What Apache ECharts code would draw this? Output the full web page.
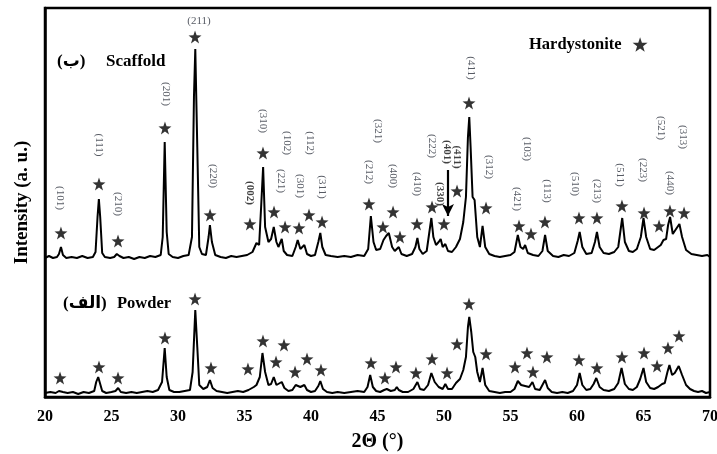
<!DOCTYPE html>
<html>
<head>
<meta charset="utf-8">
<script src="https://cdn.jsdelivr.net/npm/echarts@6/dist/echarts.min.js"></script>
<style>
html,body{margin:0;padding:0;background:#fff;}
#chart{width:717px;height:454px;}
</style>
</head>
<body>
<div id="chart"></div>
<script>
// ---- data (2θ in degrees, intensity in arbitrary units) ----
const xTickLabels = [20, 25, 30, 35, 40, 45, 50, 55, 60, 65, 70];

const scaffoldTrace = [
[20.0,139],[20.3,141],[20.6,139],[20.9,140],[21.05,143],[21.2,150],[21.35,142],[21.6,139],[22.0,140],[22.4,139],
[22.8,141],[23.2,139],[23.6,140],[23.8,145],[23.95,180],[24.05,198],[24.15,180],[24.3,144],[24.5,140],[24.9,139],
[25.2,140],[25.4,143],[25.5,145],[25.6,141],[25.9,139],[26.3,140],[26.7,138],[27.1,140],[27.5,139],[27.9,141],
[28.3,140],[28.7,142],[28.85,160],[29.0,255],[29.15,165],[29.3,143],[29.6,140],[30.0,139],[30.4,141],[30.8,142],
[31.05,160],[31.2,300],[31.3,348],[31.45,250],[31.6,150],[31.8,143],[32.1,142],[32.3,160],[32.4,172],[32.55,155],
[32.8,142],[33.2,140],[33.6,139],[34.0,141],[34.4,140],[34.8,141],[35.2,142],[35.6,145],[35.9,154],[36.1,152],
[36.25,190],[36.4,230],[36.55,170],[36.8,155],[37.0,158],[37.2,170],[37.4,155],[37.55,150],[37.8,158],[37.95,146],
[38.2,142],[38.6,141],[38.85,150],[39.0,157],[39.2,148],[39.35,150],[39.5,152],[39.7,143],[40.0,141],[40.3,142],
[40.55,155],[40.7,164],[40.85,150],[41.1,142],[41.5,141],[42.0,140],[42.5,141],[43.0,140],[43.5,142],[44.0,141],
[44.3,148],[44.5,181],[44.7,155],[44.9,147],[45.2,148],[45.45,157],[45.65,161],[45.85,164],[46.1,150],[46.3,146],
[46.6,150],[46.8,143],[47.2,141],[47.6,143],[47.85,150],[48.0,159],[48.15,148],[48.4,143],[48.7,146],[48.9,165],
[49.05,179],[49.2,160],[49.4,152],[49.6,155],[49.75,158],[49.9,150],[50.1,153],[50.3,146],[50.6,145],[50.9,150],
[51.2,158],[51.45,175],[51.65,200],[51.8,260],[51.9,280],[52.0,250],[52.15,200],[52.3,197],[52.5,160],[52.7,150],
[52.9,171],[53.1,150],[53.4,143],[53.8,141],[54.2,140],[54.6,141],[55.0,142],[55.3,145],[55.55,162],[55.75,150],
[55.95,148],[56.1,152],[56.3,144],[56.7,142],[57.1,141],[57.4,146],[57.6,162],[57.8,146],[58.2,141],[58.6,140],
[59.0,142],[59.4,141],[59.8,144],[60.05,156],[60.2,165],[60.4,150],[60.7,143],[61.1,144],[61.35,155],[61.5,165],
[61.7,150],[62.0,144],[62.4,143],[62.8,145],[63.1,150],[63.4,179],[63.6,155],[63.9,146],[64.2,145],[64.5,148],
[64.8,160],[65.0,179],[65.2,160],[65.5,148],[65.8,147],[66.1,150],[66.3,152],[66.5,157],[66.7,158],[66.85,172],
[67.0,180],[67.2,163],[67.35,165],[67.7,173],[67.9,160],[68.2,147],[68.6,143],[69.0,142],[69.4,141],[69.8,142],
[70.0,140]
];

const powderTrace = [
[20.0,4],[20.4,5],[20.8,4],[21.05,6],[21.2,8],[21.35,5],[21.7,4],[22.1,5],[22.5,3],[22.9,5],
[23.3,4],[23.7,6],[23.85,15],[24.0,20],[24.15,18],[24.3,6],[24.6,4],[25.0,5],[25.3,6],[25.5,9],
[25.7,5],[26.1,4],[26.5,5],[26.9,4],[27.3,5],[27.7,6],[28.1,5],[28.5,7],[28.8,15],[29.0,49],
[29.15,20],[29.35,7],[29.7,5],[30.1,5],[30.5,6],[30.9,7],[31.1,25],[31.3,87],[31.45,50],[31.6,12],
[31.9,8],[32.2,10],[32.4,17],[32.6,9],[32.9,6],[33.3,5],[33.7,4],[34.1,5],[34.5,6],[34.9,5],
[35.3,7],[35.7,10],[35.9,12],[36.15,20],[36.35,44],[36.55,25],[36.8,12],[37.0,13],[37.2,20],[37.4,12],
[37.55,10],[37.8,15],[38.0,9],[38.3,6],[38.6,7],[38.85,12],[39.0,14],[39.2,10],[39.35,10],[39.5,12],
[39.7,7],[40.0,5],[40.3,6],[40.55,11],[40.7,16],[40.9,8],[41.2,5],[41.6,4],[42.0,5],[42.5,4],
[43.0,5],[43.5,6],[44.0,5],[44.25,10],[44.45,22],[44.65,10],[44.9,6],[45.2,5],[45.5,7],[45.7,8],
[46.0,6],[46.3,7],[46.45,10],[46.6,7],[46.9,5],[47.3,5],[47.7,8],[48.0,15],[48.2,8],[48.5,7],
[48.8,12],[49.05,24],[49.3,15],[49.6,10],[49.9,8],[50.1,13],[50.3,8],[50.6,8],[50.9,14],[51.2,18],
[51.45,27],[51.65,40],[51.8,70],[51.9,80],[52.05,65],[52.2,45],[52.35,40],[52.5,25],[52.7,15],[52.9,29],
[53.1,12],[53.4,6],[53.8,5],[54.2,4],[54.6,5],[55.0,5],[55.3,8],[55.55,16],[55.8,12],[56.1,11],
[56.4,10],[56.65,15],[56.85,8],[57.2,7],[57.6,17],[57.8,9],[58.1,5],[58.5,4],[58.9,5],[59.3,4],
[59.7,6],[60.0,12],[60.2,24],[60.4,12],[60.7,7],[61.0,8],[61.25,13],[61.45,19],[61.7,10],[62.0,7],
[62.4,6],[62.8,8],[63.1,14],[63.35,29],[63.6,13],[63.9,8],[64.2,7],[64.5,10],[64.75,18],[65.0,29],
[65.2,15],[65.5,9],[65.8,8],[66.1,10],[66.4,13],[66.6,14],[66.8,25],[66.95,32],[67.15,22],[67.35,24],
[67.65,31],[67.9,22],[68.2,12],[68.5,8],[68.8,6],[69.1,5],[69.4,6],[69.7,4],[70.0,5]
];

const scaffoldStars = [
[21.2,164],[24.06,213],[25.49,156],[29.02,269],[31.28,360],[32.41,182],[35.41,173],[36.39,244],
[37.22,185],[38.05,170],[39.1,169],[39.85,182],[40.83,175],[44.36,193],[45.41,170],[46.17,185],
[46.69,160],[47.97,173],[49.1,190],[50.0,173],[50.98,206],[51.88,294],[53.16,189],[55.64,171],
[56.54,163],[57.59,175],[60.15,179],[61.5,179],[63.38,191],[65.04,184],[66.17,171],[66.99,186],[68.05,184]
];

const powderStars = [
[21.13,19],[24.06,30],[25.49,19],[29.02,59],[31.28,98],[32.48,29],[35.26,28],[36.39,56],
[37.37,35],[37.97,52],[38.8,25],[39.7,38],[40.75,27],[44.51,34],[45.56,19],[46.39,30],
[47.89,24],[49.1,38],[50.23,24],[50.98,53],[51.88,93],[53.16,43],[55.34,30],[56.24,44],
[56.69,25],[57.74,40],[60.15,37],[61.5,29],[63.38,40],[65.04,44],[66.02,31],[66.84,49],[67.67,61]
];

const millerLabels = [
[21.13,199,'(101)'],[24.06,252,'(111)'],[25.49,193,'(210)'],[29.1,303,'(201)'],[31.58,376,'(211)'],
[32.63,221,'(220)'],[35.41,204,'(002)'],[36.39,276,'(310)'],[37.74,216,'(221)'],[38.2,254,'(102)'],
[39.17,211,'(301)'],[39.92,254,'(112)'],[40.83,210,'(311)'],[44.36,225,'(212)'],[45.04,266,'(321)'],
[46.17,221,'(400)'],[47.97,213,'(410)'],[49.1,251,'(222)'],[49.7,203,'(330)'],[50.23,245,'(401)'],
[50.98,240,'(411)'],[52.03,329,'(411)'],[53.38,230,'(312)'],[55.49,198,'(421)'],[56.24,248,'(103)'],
[57.74,206,'(113)'],[59.85,213,'(510)'],[61.5,206,'(213)'],[63.23,222,'(511)'],[64.96,227,'(223)'],
[66.32,269,'(521)'],[66.99,214,'(440)'],[67.97,260,'(313)']
];
const boldLabelIdx = [6, 18, 19, 20];
const horizontalLabelIdx = [4];
const arrowLine = [[50.3,227],[50.3,181]];

// ---- chart ----
const starPath = 'path://M12,0 L14.9,8.4 L23.8,8.6 L16.7,14 L19.3,22.6 L12,17.5 L4.7,22.6 L7.3,14 L0.2,8.6 L9.1,8.4 Z';
const serif = '"Liberation Serif","DejaVu Serif",serif';

const labelData = millerLabels.map((d, i) => ({
  value: [d[0], d[1]],
  label: {
    formatter: d[2],
    rotate: horizontalLabelIdx.includes(i) ? 0 : -90,
    fontWeight: boldLabelIdx.includes(i) ? 'bold' : 'normal',
    color: boldLabelIdx.includes(i) ? '#111' : '#2c313c'
  }
}));

const chart = echarts.init(document.getElementById('chart'), null, {renderer: 'canvas'});
chart.setOption({
  animation: false,
  backgroundColor: '#fff',
  grid: {left: 45, right: 7, top: 8, bottom: 57, containLabel: false, outerBoundsMode: 'none',
    show: true, borderColor: '#000', borderWidth: 2.5, backgroundColor: 'transparent'},
  legend: {
    data: [{name: 'Hardystonite', icon: starPath}],
    left: 524, top: 31, align: 'right', itemWidth: 15, itemHeight: 15, itemGap: 10,
    textStyle: {fontFamily: serif, fontWeight: 'bold', fontSize: 16.5, color: '#000', padding: [0, 6, 0, 0]}
  },
  xAxis: {
    type: 'value', min: 20, max: 70, interval: 5,
    name: '2Θ (°)', nameLocation: 'middle', nameGap: 35,
    nameTextStyle: {fontFamily: serif, fontWeight: 'bold', fontSize: 20, color: '#000'},
    axisLine: {show: true, lineStyle: {color: '#000', width: 2.5}},
    axisTick: {show: false},
    splitLine: {show: false},
    axisLabel: {fontFamily: serif, fontWeight: 'bold', fontSize: 16, color: '#000', margin: 12,
      formatter: v => xTickLabels.includes(v) ? String(v) : ''}
  },
  yAxis: {
    type: 'value', min: 0, max: 389,
    name: 'Intensity (a. u.)', nameLocation: 'middle', nameGap: 13,
    nameTextStyle: {fontFamily: serif, fontWeight: 'bold', fontSize: 19, color: '#000'},
    axisLine: {show: true, lineStyle: {color: '#000', width: 2.5}},
    axisTick: {show: false}, axisLabel: {show: false}, splitLine: {show: false}
  },
  series: [
    {
      name: 'Scaffold', type: 'line', data: scaffoldTrace, showSymbol: false, silent: true,
      lineStyle: {color: '#000', width: 2}, z: 3,
      markLine: {
        silent: true, symbol: ['none', 'arrow'], symbolSize: [9, 12],
        label: {show: false},
        lineStyle: {color: '#000', width: 2.2, type: 'solid'},
        data: [[{coord: arrowLine[0]}, {coord: arrowLine[1]}]]
      }
    },
    {
      name: 'Powder', type: 'line', data: powderTrace, showSymbol: false, silent: true,
      lineStyle: {color: '#000', width: 2}, z: 3
    },
    {
      name: 'Hardystonite', type: 'scatter', data: scaffoldStars.concat(powderStars),
      symbol: starPath, symbolSize: 13, itemStyle: {color: '#000'}, z: 4
    },
    {
      name: 'labels', type: 'scatter', data: labelData, symbolSize: 0, z: 5,
      label: {show: true, position: 'inside', fontFamily: serif, fontSize: 11}
    }
  ],
  graphic: [
    {type: 'text', left: 57, top: 53, style: {text: '(ب)', font: 'bold 17px "Liberation Serif","DejaVu Sans",serif', fill: '#000'}},
    {type: 'text', left: 106, top: 53, style: {text: 'Scaffold', font: 'bold 17px "Liberation Serif",serif', fill: '#000'}},
    {type: 'text', left: 63, top: 295, style: {text: '(الف)', font: 'bold 17px "Liberation Serif","DejaVu Sans",serif', fill: '#000'}},
    {type: 'text', left: 117, top: 295, style: {text: 'Powder', font: 'bold 16.5px "Liberation Serif",serif', fill: '#000'}}
  ]
});
</script>
</body>
</html>
